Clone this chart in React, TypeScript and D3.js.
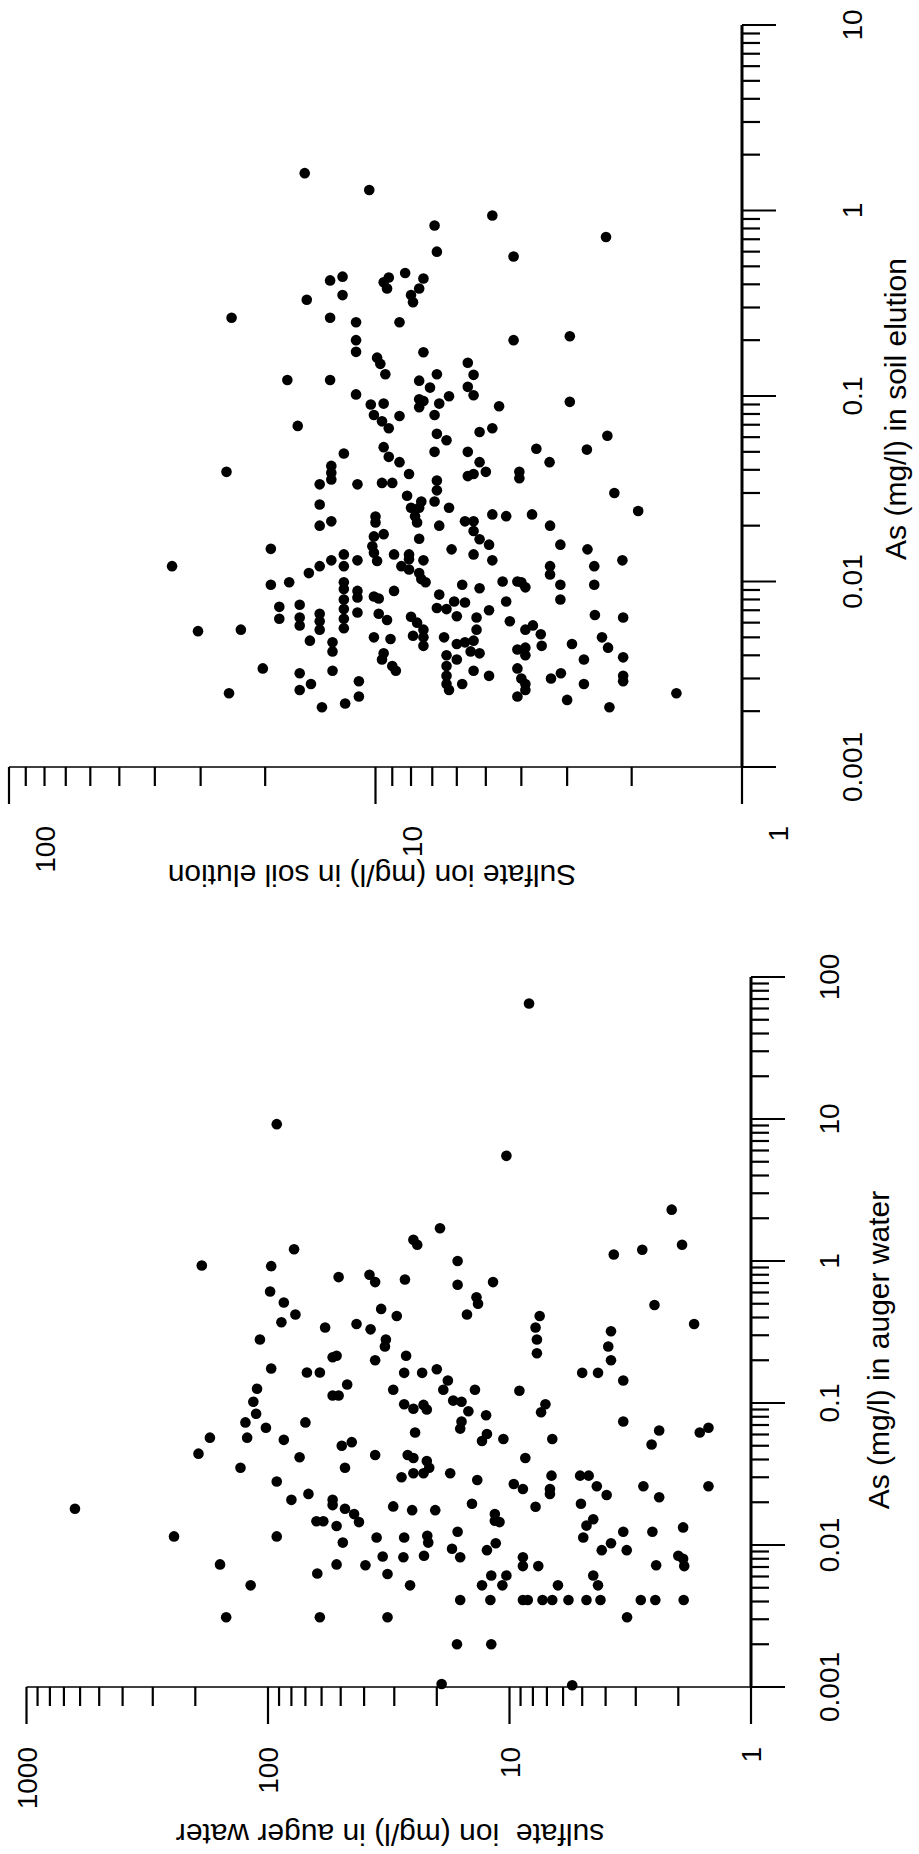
import React from "react";
import * as d3 from "d3";

// Soil elution samples: arsenic (mg/l) paired by index with sulfate ion (mg/l)
const soilAs = [
  1.59, 1.29, 0.42, 0.44, 0.41, 0.435, 0.38, 0.35, 0.33, 0.264, 0.264, 0.25, 0.25, 0.2, 0.173, 0.161,
  0.149, 0.131, 0.122, 0.122, 0.102, 0.09, 0.091, 0.079, 0.94, 0.83, 0.72, 0.6, 0.565, 0.46, 0.43, 0.38,
  0.35, 0.32, 0.2, 0.21, 0.172, 0.151, 0.131, 0.13, 0.121, 0.111, 0.112, 0.101, 0.0996, 0.096, 0.094, 0.087,
  0.091, 0.088, 0.093, 0.078, 0.079, 0.073, 0.067, 0.064, 0.067, 0.0625, 0.0577, 0.061, 0.052, 0.0514, 0.053, 0.05,
  0.05, 0.047, 0.044, 0.044, 0.044, 0.038, 0.037, 0.038, 0.039, 0.039, 0.036, 0.034, 0.034, 0.035, 0.031, 0.03,
  0.029, 0.027, 0.027, 0.025, 0.025, 0.0225, 0.0208, 0.025, 0.024, 0.023, 0.0225, 0.023, 0.0211, 0.0211, 0.0187, 0.02,
  0.02, 0.0224, 0.0208, 0.0175, 0.018, 0.0155, 0.0143, 0.0129, 0.017, 0.0169, 0.0158, 0.0158, 0.0149, 0.0149, 0.014, 0.014,
  0.0132, 0.013, 0.014, 0.013, 0.013, 0.0121, 0.0116, 0.0121, 0.0109, 0.0121, 0.0111, 0.0103, 0.0099, 0.01, 0.01, 0.0099,
  0.0093, 0.0096, 0.0092, 0.0096, 0.0096, 0.0089, 0.0085, 0.0078, 0.0077, 0.0078, 0.008, 0.0072, 0.0071, 0.0065, 0.0067, 0.007,
  0.0064, 0.0055, 0.00646, 0.006, 0.0055, 0.0051, 0.005, 0.0045, 0.0062, 0.0061, 0.0066, 0.0064, 0.0055, 0.0058, 0.0052, 0.0045,
  0.005, 0.0046, 0.0047, 0.0048, 0.0049, 0.0046, 0.005, 0.0044, 0.0043, 0.0044, 0.004, 0.0042, 0.0041, 0.004, 0.0038, 0.0041,
  0.0038, 0.0038, 0.0039, 0.0035, 0.0033, 0.0035, 0.0033, 0.0034, 0.003, 0.0028, 0.0026, 0.0031, 0.003, 0.0032, 0.0031, 0.0029,
  0.0031, 0.0028, 0.0028, 0.0026, 0.0028, 0.0025, 0.0024, 0.0023, 0.0021, 0.069, 0.049, 0.039, 0.042, 0.0386, 0.0355, 0.0334,
  0.0334, 0.026, 0.02, 0.0211, 0.015, 0.014, 0.013, 0.013, 0.0121, 0.0121, 0.0121, 0.0111, 0.0099, 0.0096, 0.0099, 0.0091,
  0.008, 0.0071, 0.0063, 0.0056, 0.0089, 0.0082, 0.0083, 0.0081, 0.0073, 0.0075, 0.0063, 0.0064, 0.0058, 0.0067, 0.0061, 0.0055,
  0.0068, 0.0054, 0.0055, 0.0048, 0.0047, 0.0042, 0.005, 0.0034, 0.0032, 0.0033, 0.0028, 0.0026, 0.0029, 0.0024, 0.0025, 0.0021,
  0.0022,
];
const soilSulfate = [
  15.6, 10.4, 13.3, 12.3, 9.5, 9.2, 9.3, 12.3, 15.4, 24.7, 13.3, 11.3, 8.6, 11.3, 11.3, 9.9,
  9.7, 9.4, 17.4, 13.3, 11.3, 10.3, 9.5, 10.1, 4.8, 6.9, 2.35, 6.8, 4.2, 8.3, 7.4, 7.6,
  8.0, 7.9, 4.2, 2.95, 7.4, 5.6, 6.8, 5.4, 7.6, 7.1, 5.6, 5.4, 6.3, 7.6, 7.4, 7.6,
  6.7, 4.6, 2.95, 8.6, 6.9, 9.6, 9.2, 5.2, 4.8, 6.8, 6.4, 2.33, 3.64, 2.65, 9.5, 6.9,
  5.6, 9.2, 8.6, 5.2, 3.35, 8.1, 5.6, 5.4, 5.0, 4.05, 4.05, 9.6, 9.0, 6.8, 6.8, 2.23,
  8.2, 7.5, 6.9, 8.0, 7.6, 7.8, 7.7, 6.3, 1.92, 4.8, 4.4, 3.74, 5.7, 5.4, 5.4, 6.7,
  3.34, 10.0, 10.0, 10.1, 9.5, 10.2, 10.1, 9.9, 7.6, 5.2, 4.9, 3.13, 6.2, 2.64, 8.9, 8.1,
  8.1, 7.4, 5.4, 4.8, 2.12, 8.5, 8.1, 3.34, 3.34, 2.53, 7.6, 7.5, 7.3, 4.5, 4.1, 4.0,
  3.9, 5.8, 5.2, 3.13, 2.53, 8.9, 6.7, 6.1, 5.7, 4.4, 3.13, 6.8, 6.4, 6.0, 9.8, 4.9,
  5.3, 5.3, 8.0, 7.7, 7.4, 7.9, 7.4, 7.4, 9.3, 4.3, 2.52, 2.11, 3.9, 3.72, 3.54, 3.52,
  6.5, 6.0, 5.7, 5.4, 9.1, 2.91, 2.41, 2.32, 4.1, 3.9, 3.9, 5.5, 5.2, 6.4, 6.0, 9.5,
  9.6, 2.7, 2.11, 9.0, 8.8, 6.4, 5.4, 4.1, 4.0, 3.9, 3.9, 4.9, 3.32, 3.12, 2.11, 2.11,
  6.4, 6.4, 5.8, 6.3, 2.7, 1.51, 4.1, 3.0, 2.3, 16.3, 12.2, 25.5, 13.2, 13.2, 13.2, 14.2,
  11.2, 14.2, 14.2, 13.2, 19.3, 12.2, 11.2, 13.2, 12.2, 14.2, 35.9, 15.2, 17.2, 19.3, 12.2, 12.2,
  12.2, 12.2, 12.2, 12.2, 11.2, 11.2, 10.1, 9.8, 18.3, 16.1, 18.3, 16.1, 16.1, 14.2, 14.2, 14.2,
  11.2, 30.5, 23.3, 15.1, 13.1, 13.1, 10.1, 20.3, 16.1, 13.1, 15.0, 16.1, 11.1, 11.1, 25.1, 14.0,
  12.1,
];

// Auger water samples: arsenic (mg/l) paired by index with sulfate ion (mg/l)
const augerAs = [
  9.2, 1.21, 0.93, 0.92, 0.77, 0.8, 0.71, 0.61, 0.51, 0.46, 0.42, 0.41, 0.37, 0.36, 0.34, 0.33,
  0.28, 0.25, 0.28, 0.21, 0.215, 0.2, 0.175, 0.164, 0.164, 0.135, 0.126, 0.113, 0.113, 0.124, 65, 5.5,
  2.3, 1.7, 1.41, 1.3, 1.11, 1.2, 1.3, 1.0, 0.74, 0.68, 0.71, 0.555, 0.5, 0.42, 0.49, 0.41,
  0.34, 0.36, 0.28, 0.32, 0.25, 0.224, 0.215, 0.2, 0.163, 0.163, 0.173, 0.144, 0.163, 0.163, 0.144, 0.124,
  0.124, 0.122, 0.102, 0.084, 0.073, 0.067, 0.073, 0.057, 0.057, 0.055, 0.05, 0.053, 0.044, 0.0415, 0.043, 0.035,
  0.035, 0.028, 0.0208, 0.0229, 0.0208, 0.0191, 0.0187, 0.018, 0.018, 0.0165, 0.0145, 0.0147, 0.0147, 0.0136, 0.0115, 0.0115,
  0.0113, 0.0104, 0.0083, 0.0073, 0.0073, 0.0072, 0.0063, 0.00625, 0.0052, 0.0031, 0.0031, 0.0031, 0.098, 0.091, 0.097, 0.09,
  0.104, 0.102, 0.0875, 0.082, 0.098, 0.086, 0.074, 0.066, 0.062, 0.074, 0.064, 0.051, 0.062, 0.067, 0.054, 0.0605,
  0.0558, 0.0558, 0.043, 0.041, 0.039, 0.035, 0.032, 0.032, 0.03, 0.032, 0.041, 0.0287, 0.0308, 0.0248, 0.0229, 0.0308,
  0.0308, 0.0269, 0.0248, 0.0259, 0.0225, 0.0259, 0.0217, 0.0259, 0.0176, 0.0176, 0.0195, 0.0186, 0.0195, 0.0165, 0.0148, 0.0145,
  0.0152, 0.0137, 0.0113, 0.0113, 0.0116, 0.0104, 0.0124, 0.0103, 0.0133, 0.0124, 0.0124, 0.0103, 0.0092, 0.0092, 0.0092, 0.0082,
  0.0084, 0.0094, 0.0082, 0.0082, 0.0071, 0.0071, 0.0072, 0.0084, 0.008, 0.0071, 0.0052, 0.0052, 0.0061, 0.0061, 0.0052, 0.0052,
  0.0061, 0.0052, 0.0041, 0.0041, 0.0041, 0.0041, 0.0041, 0.0041, 0.0041, 0.0041, 0.0041, 0.0041, 0.0041, 0.0041, 0.0031, 0.002,
  0.002, 0.00105, 0.00103,
];
const augerSulfate = [
  92, 78, 188, 97, 51, 38, 36, 98, 86, 34, 77, 29.3, 88, 43, 58, 37.6,
  32.5, 32.8, 108, 54, 52, 36, 97, 69, 61, 47, 111, 54, 51, 30.3, 8.3, 10.3,
  2.13, 19.4, 25, 24.1, 3.7, 2.82, 1.93, 16.4, 27.1, 16.4, 11.7, 13.7, 13.5, 15.0, 2.51, 7.5,
  7.8, 1.72, 7.7, 3.8, 3.9, 7.7, 26.8, 3.8, 27.3, 23, 20.0, 18.0, 5.0, 4.3, 3.38, 18.8,
  13.9, 9.1, 115, 112, 124, 102, 70, 174, 122, 86, 49.5, 45, 194, 74, 36, 130,
  48, 92, 80, 68, 54, 54, 30.3, 630, 48, 44, 42, 63, 59, 52, 245, 92,
  35.5, 49, 33.5, 158, 52, 39.5, 62.5, 32, 118, 149, 61, 32, 27.3, 25, 22.7, 22,
  17.1, 15.8, 14.8, 12.5, 7.1, 7.4, 15.8, 16.0, 24.6, 3.38, 2.4, 2.58, 1.63, 1.5, 13.0, 12.4,
  10.6, 6.65, 26.4, 25, 22, 21.5, 25, 22.7, 28, 17.6, 8.6, 13.6, 6.7, 6.8, 6.8, 5.1,
  4.7, 9.6, 8.8, 4.35, 3.96, 2.79, 2.4, 1.5, 25.3, 20.3, 14.3, 7.8, 5.06, 11.5, 11.5, 11.0,
  4.5, 4.8, 4.95, 27.3, 21.9, 21.7, 16.4, 11.4, 1.91, 3.38, 2.56, 3.8, 3.27, 4.15, 12.4, 27.5,
  22.6, 17.3, 16.0, 8.8, 8.8, 7.6, 2.47, 2.0, 1.91, 1.89, 25.8, 13.0, 11.9, 10.3, 10.7, 6.3,
  4.5, 4.3, 16.0, 12.0, 8.8, 8.4, 7.3, 6.65, 5.7, 4.8, 4.2, 2.86, 2.49, 1.9, 3.26, 16.5,
  11.9, 19.1, 5.5,
];

// Axis tick labels
const soilAsTicks = ["0.001", "0.01", "0.1", "1", "10"];
const soilSulfateTicks = ["1", "10", "100"];
const augerAsTicks = ["0.001", "0.01", "0.1", "1", "10", "100"];
const augerSulfateTicks = ["1", "10", "100", "1000"];

const FONT = "'Liberation Sans', Arial, Helvetica, sans-serif";
const FIG_W = 1854; // landscape figure, drawn rotated into the portrait page
const PAGE_W = 919;
const PAGE_H = 1854;

type PanelProps = {
  asVals: number[];
  sVals: number[];
  asTicks: string[];
  sTicks: string[];
  xRange: [number, number];
  yRange: [number, number];
  xLabelBaseline: number;
  yLabelEnd: number;
  yLabelShift: number;
  xTitle: string;
  xTitlePos: [number, number];
  yTitle: string;
  yTitlePos: [number, number];
};

const isDecade = (t: number) => Math.abs(Math.log10(t) - Math.round(Math.log10(t))) < 1e-6;

function Panel(p: PanelProps) {
  const asNums = p.asTicks.map(Number);
  const sNums = p.sTicks.map(Number);
  const x = d3.scaleLog().domain([asNums[0], asNums[asNums.length - 1]]).range(p.xRange);
  const y = d3.scaleLog().domain([sNums[0], sNums[sNums.length - 1]]).range(p.yRange);
  const x0 = p.xRange[0];
  const y0 = p.yRange[0];
  const xTickVals = x.ticks();
  const yTickVals = y.ticks();
  const points = p.asVals.map((a, i) => [a, p.sVals[i]] as [number, number]);

  return (
    <g>
      {/* arsenic axis */}
      <line x1={x0} x2={p.xRange[1]} y1={y0} y2={y0} stroke="#000" strokeWidth={3} />
      {xTickVals.map((t, i) => (
        <line
          key={"xt" + i}
          x1={x(t)}
          x2={x(t)}
          y1={y0}
          y2={y0 + (isDecade(t) ? 34 : 18)}
          stroke="#000"
          strokeWidth={2.2}
        />
      ))}
      {p.asTicks.map((lab, i) => (
        <text
          key={"xl" + i}
          x={x(asNums[i])}
          y={p.xLabelBaseline}
          textAnchor="middle"
          fontSize={28}
          fontFamily={FONT}
        >
          {lab}
        </text>
      ))}

      {/* sulfate axis */}
      <line x1={x0} x2={x0} y1={y0} y2={p.yRange[1]} stroke="#000" strokeWidth={1.5} />
      {yTickVals.map((t, i) => (
        <line
          key={"yt" + i}
          x1={x0}
          x2={x0 - (isDecade(t) ? 37 : 19)}
          y1={y(t)}
          y2={y(t)}
          stroke="#000"
          strokeWidth={2.2}
        />
      ))}
      {p.sTicks.map((lab, i) => (
        <text
          key={"yl" + i}
          x={p.yLabelEnd}
          y={y(sNums[i]) + p.yLabelShift}
          dy="0.36em"
          textAnchor="end"
          fontSize={28}
          fontFamily={FONT}
        >
          {lab}
        </text>
      ))}

      {/* axis titles */}
      <text
        x={p.xTitlePos[0]}
        y={p.xTitlePos[1]}
        textAnchor="middle"
        fontSize={30}
        fontFamily={FONT}
      >
        {p.xTitle}
      </text>
      <text
        transform={`translate(${p.yTitlePos[0]},${p.yTitlePos[1]}) rotate(-90)`}
        textAnchor="middle"
        fontSize={30}
        fontFamily={FONT}
        style={{ whiteSpace: "pre" }}
      >
        {p.yTitle}
      </text>

      {/* samples */}
      {points.map(([a, s], i) => (
        <circle key={"pt" + i} cx={x(a)} cy={y(s)} r={5.3} fill="#000" />
      ))}
    </g>
  );
}

export default function App() {
  return (
    <svg
      width={PAGE_W}
      height={PAGE_H}
      viewBox={`0 0 ${PAGE_W} ${PAGE_H}`}
      style={{ position: "absolute", left: 0, top: 0, display: "block", background: "#fff" }}
    >
      <rect width={PAGE_W} height={PAGE_H} fill="#fff" />
      <g transform={`translate(0,${FIG_W}) rotate(-90)`}>
        <Panel
          asVals={augerAs}
          sVals={augerSulfate}
          asTicks={augerAsTicks}
          sTicks={augerSulfateTicks}
          xRange={[167, 877]}
          yRange={[751, 26.5]}
          xLabelBaseline={839}
          yLabelEnd={107}
          yLabelShift={0}
          xTitle="As (mg/l) in auger water"
          xTitlePos={[504, 889]}
          yTitle={"sulfate  ion (mg/l) in auger water"}
          yTitlePos={[30, 390]}
        />
        <Panel
          asVals={soilAs}
          sVals={soilSulfate}
          asTicks={soilAsTicks}
          sTicks={soilSulfateTicks}
          xRange={[1087, 1829]}
          yRange={[742, 9]}
          xLabelBaseline={862}
          yLabelEnd={1028}
          yLabelShift={36}
          xTitle="As (mg/l) in soil elution"
          xTitlePos={[1445, 906]}
          yTitle="Sulfate ion (mg/l) in soil elution"
          yTitlePos={[989, 372]}
        />
      </g>
    </svg>
  );
}
